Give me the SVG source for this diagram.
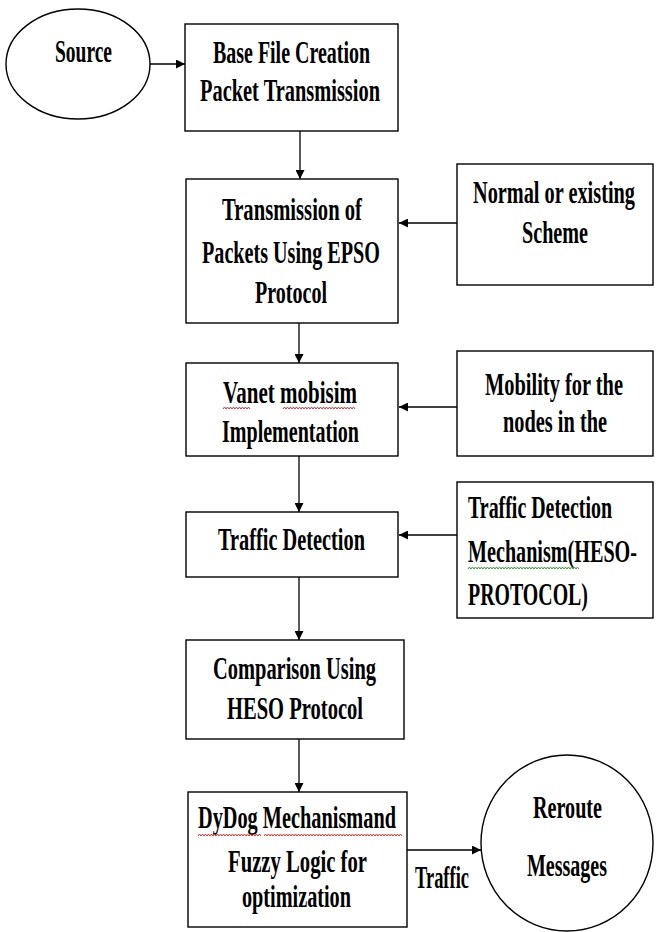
<svg xmlns="http://www.w3.org/2000/svg" width="656" height="932" viewBox="0 0 656 932">
<style>
.b{fill:#fff;stroke:#000;stroke-width:1.4}
.t{font-family:"Liberation Serif","Times New Roman",serif;font-weight:bold;font-size:32px;fill:#000}
.c{stroke:#000;stroke-width:1.3;fill:none}
.sq{fill:none;stroke-width:1}
</style>
<defs>
<marker id="ah" viewBox="0 0 10 10" refX="10" refY="5" markerWidth="9" markerHeight="9" markerUnits="userSpaceOnUse" orient="auto">
<path d="M0,0 L10,5 L0,10 z" fill="#000"/>
</marker>
</defs>
<rect width="656" height="932" fill="#fff"/>
<g id="connectors">
<line class="c" x1="150" y1="64" x2="185" y2="64" marker-end="url(#ah)"/>
<line class="c" x1="300" y1="131" x2="300" y2="179" marker-end="url(#ah)"/>
<line class="c" x1="457" y1="223" x2="399" y2="223" stroke-width="2" marker-end="url(#ah)"/>
<line class="c" x1="299" y1="323" x2="299" y2="363" marker-end="url(#ah)"/>
<line class="c" x1="457" y1="407" x2="399" y2="407" marker-end="url(#ah)"/>
<line class="c" x1="299" y1="456" x2="299" y2="512" marker-end="url(#ah)"/>
<line class="c" x1="457" y1="535" x2="399" y2="535" marker-end="url(#ah)"/>
<line class="c" x1="299" y1="577" x2="299" y2="640" marker-end="url(#ah)"/>
<line class="c" x1="299" y1="739" x2="299" y2="792" marker-end="url(#ah)"/>
<line class="c" x1="407" y1="850" x2="481" y2="850" stroke-width="1.8" marker-end="url(#ah)"/>
<text class="t" transform="scale(0.66 1)" x="628.79" y="888" textLength="81.82" lengthAdjust="spacingAndGlyphs">Traffic</text>
</g>
<g id="source">
<ellipse class="b" cx="78" cy="64" rx="72" ry="55"/>
<text class="t" transform="scale(0.66 1)" x="83.33" y="62" textLength="86.36" lengthAdjust="spacingAndGlyphs">Source</text>
</g>
<g id="base">
<rect class="b" x="185" y="24" width="213" height="107"/>
<text class="t" transform="scale(0.66 1)" x="322.73" y="63" textLength="237.88" lengthAdjust="spacingAndGlyphs">Base File Creation</text>
<text class="t" transform="scale(0.66 1)" x="303.03" y="101" textLength="272.73" lengthAdjust="spacingAndGlyphs">Packet Transmission</text>
</g>
<g id="epso">
<rect class="b" x="186" y="179" width="212" height="144"/>
<text class="t" transform="scale(0.66 1)" x="336.36" y="220" textLength="212.12" lengthAdjust="spacingAndGlyphs">Transmission of</text>
<text class="t" transform="scale(0.66 1)" x="306.06" y="263" textLength="269.70" lengthAdjust="spacingAndGlyphs">Packets Using EPSO</text>
<text class="t" transform="scale(0.66 1)" x="386.36" y="303" textLength="109.09" lengthAdjust="spacingAndGlyphs">Protocol</text>
</g>
<g id="normal">
<rect class="b" x="457" y="164" width="196" height="121"/>
<text class="t" transform="scale(0.66 1)" x="716.67" y="203" textLength="245.45" lengthAdjust="spacingAndGlyphs">Normal or existing</text>
<text class="t" transform="scale(0.66 1)" x="790.91" y="243" textLength="100" lengthAdjust="spacingAndGlyphs">Scheme</text>
</g>
<g id="vanet">
<rect class="b" x="186" y="363" width="212" height="93"/>
<text class="t" transform="scale(0.66 1)" x="337.88" y="403" textLength="203.03" lengthAdjust="spacingAndGlyphs">Vanet mobisim</text>
<path class="sq" stroke="#e03030" d="M223,409 l1.5,-2 l1.5,2 l1.5,-2 l1.5,2 l1.5,-2 l1.5,2 l1.5,-2 l1.5,2 l1.5,-2 l1.5,2 l1.5,-2 l1.5,2 l1.5,-2 l1.5,2 l1.5,-2 l1.5,2 l1.5,-2 l1.5,2 M283,409 l1.5,-2 l1.5,2 l1.5,-2 l1.5,2 l1.5,-2 l1.5,2 l1.5,-2 l1.5,2 l1.5,-2 l1.5,2 l1.5,-2 l1.5,2 l1.5,-2 l1.5,2 l1.5,-2 l1.5,2 l1.5,-2 l1.5,2 l1.5,-2 l1.5,2 l1.5,-2 l1.5,2 l1.5,-2 l1.5,2 l1.5,-2 l1.5,2 l1.5,-2 l1.5,2 l1.5,-2 l1.5,2 l1.5,-2 l1.5,2 l1.5,-2 l1.5,2 l1.5,-2 l1.5,2 l1.5,-2 l1.5,2 l1.5,-2 l1.5,2 l1.5,-2 l1.5,2 l1.5,-2 l1.5,2 l1.5,-2 l1.5,2 l1.5,-2 l1.5,2"/>
<text class="t" transform="scale(0.66 1)" x="336.36" y="442" textLength="207.58" lengthAdjust="spacingAndGlyphs">Implementation</text>
</g>
<g id="mobility">
<rect class="b" x="457" y="351" width="196" height="105"/>
<text class="t" transform="scale(0.66 1)" x="734.85" y="395" textLength="209.09" lengthAdjust="spacingAndGlyphs">Mobility for the</text>
<text class="t" transform="scale(0.66 1)" x="762.12" y="432" textLength="157.58" lengthAdjust="spacingAndGlyphs">nodes in the</text>
</g>
<g id="traffic">
<rect class="b" x="186" y="512" width="212" height="65"/>
<text class="t" transform="scale(0.66 1)" x="330.30" y="550" textLength="222.73" lengthAdjust="spacingAndGlyphs">Traffic Detection</text>
</g>
<g id="heso-mech">
<rect class="b" x="457" y="482" width="196" height="136"/>
<text class="t" transform="scale(0.66 1)" x="709.09" y="518" textLength="218.18" lengthAdjust="spacingAndGlyphs">Traffic Detection</text>
<text class="t" transform="scale(0.66 1)" x="709.09" y="562" textLength="256.06" lengthAdjust="spacingAndGlyphs">Mechanism(HESO-</text>
<path class="sq" stroke="#30a030" d="M468,569 l1.5,-2 l1.5,2 l1.5,-2 l1.5,2 l1.5,-2 l1.5,2 l1.5,-2 l1.5,2 l1.5,-2 l1.5,2 l1.5,-2 l1.5,2 l1.5,-2 l1.5,2 l1.5,-2 l1.5,2 l1.5,-2 l1.5,2 l1.5,-2 l1.5,2 l1.5,-2 l1.5,2 l1.5,-2 l1.5,2 l1.5,-2 l1.5,2 l1.5,-2 l1.5,2 l1.5,-2 l1.5,2 l1.5,-2 l1.5,2 l1.5,-2 l1.5,2 l1.5,-2 l1.5,2 l1.5,-2 l1.5,2 l1.5,-2 l1.5,2 l1.5,-2 l1.5,2 l1.5,-2 l1.5,2 l1.5,-2 l1.5,2 l1.5,-2 l1.5,2 l1.5,-2 l1.5,2 l1.5,-2 l1.5,2 l1.5,-2 l1.5,2 l1.5,-2 l1.5,2 l1.5,-2 l1.5,2 l1.5,-2 l1.5,2 l1.5,-2 l1.5,2 l1.5,-2 l1.5,2 l1.5,-2 l1.5,2 l1.5,-2 l1.5,2 l1.5,-2 l1.5,2 l1.5,-2 l1.5,2 l1.5,-2 l1.5,2"/>
<text class="t" transform="scale(0.66 1)" x="709.09" y="605" textLength="181.82" lengthAdjust="spacingAndGlyphs">PROTOCOL)</text>
</g>
<g id="comparison">
<rect class="b" x="186" y="640" width="218" height="99"/>
<text class="t" transform="scale(0.66 1)" x="322.73" y="679" textLength="246.97" lengthAdjust="spacingAndGlyphs">Comparison Using</text>
<text class="t" transform="scale(0.66 1)" x="343.94" y="719" textLength="206.06" lengthAdjust="spacingAndGlyphs">HESO Protocol</text>
</g>
<g id="dydog">
<rect class="b" x="188" y="792" width="219" height="135"/>
<text class="t" transform="scale(0.66 1)" x="300" y="828" textLength="300" lengthAdjust="spacingAndGlyphs">DyDog Mechanismand</text>
<path class="sq" stroke="#e03030" d="M198,836 l1.5,-2 l1.5,2 l1.5,-2 l1.5,2 l1.5,-2 l1.5,2 l1.5,-2 l1.5,2 l1.5,-2 l1.5,2 l1.5,-2 l1.5,2 l1.5,-2 l1.5,2 l1.5,-2 l1.5,2 l1.5,-2 l1.5,2 l1.5,-2 l1.5,2 l1.5,-2 l1.5,2 l1.5,-2 l1.5,2 l1.5,-2 l1.5,2 l1.5,-2 l1.5,2 l1.5,-2 l1.5,2 l1.5,-2 l1.5,2 l1.5,-2 l1.5,2 l1.5,-2 l1.5,2 l1.5,-2 l1.5,2 l1.5,-2 l1.5,2 l1.5,-2 l1.5,2 M264,836 l1.5,-2 l1.5,2 l1.5,-2 l1.5,2 l1.5,-2 l1.5,2 l1.5,-2 l1.5,2 l1.5,-2 l1.5,2 l1.5,-2 l1.5,2 l1.5,-2 l1.5,2 l1.5,-2 l1.5,2 l1.5,-2 l1.5,2 l1.5,-2 l1.5,2 l1.5,-2 l1.5,2 l1.5,-2 l1.5,2 l1.5,-2 l1.5,2 l1.5,-2 l1.5,2 l1.5,-2 l1.5,2 l1.5,-2 l1.5,2 l1.5,-2 l1.5,2 l1.5,-2 l1.5,2 l1.5,-2 l1.5,2 l1.5,-2 l1.5,2 l1.5,-2 l1.5,2 l1.5,-2 l1.5,2 l1.5,-2 l1.5,2 l1.5,-2 l1.5,2 l1.5,-2 l1.5,2 l1.5,-2 l1.5,2 l1.5,-2 l1.5,2 l1.5,-2 l1.5,2 l1.5,-2 l1.5,2 l1.5,-2 l1.5,2 l1.5,-2 l1.5,2 l1.5,-2 l1.5,2 l1.5,-2 l1.5,2 l1.5,-2 l1.5,2 l1.5,-2 l1.5,2 l1.5,-2 l1.5,2 l1.5,-2 l1.5,2 l1.5,-2 l1.5,2 l1.5,-2 l1.5,2 l1.5,-2 l1.5,2 l1.5,-2 l1.5,2 l1.5,-2 l1.5,2 l1.5,-2 l1.5,2 l1.5,-2 l1.5,2 l1.5,-2 l1.5,2 l1.5,-2 l1.5,2"/>
<text class="t" transform="scale(0.66 1)" x="345.45" y="872" textLength="210.61" lengthAdjust="spacingAndGlyphs">Fuzzy Logic for</text>
<text class="t" transform="scale(0.66 1)" x="366.67" y="907" textLength="165.15" lengthAdjust="spacingAndGlyphs">optimization</text>
</g>
<g id="reroute">
<ellipse class="b" cx="567" cy="843" rx="86" ry="88"/>
<text class="t" transform="scale(0.66 1)" x="807.58" y="818" textLength="104.55" lengthAdjust="spacingAndGlyphs">Reroute</text>
<text class="t" transform="scale(0.66 1)" x="798.48" y="876" textLength="121.21" lengthAdjust="spacingAndGlyphs">Messages</text>
</g>
</svg>
